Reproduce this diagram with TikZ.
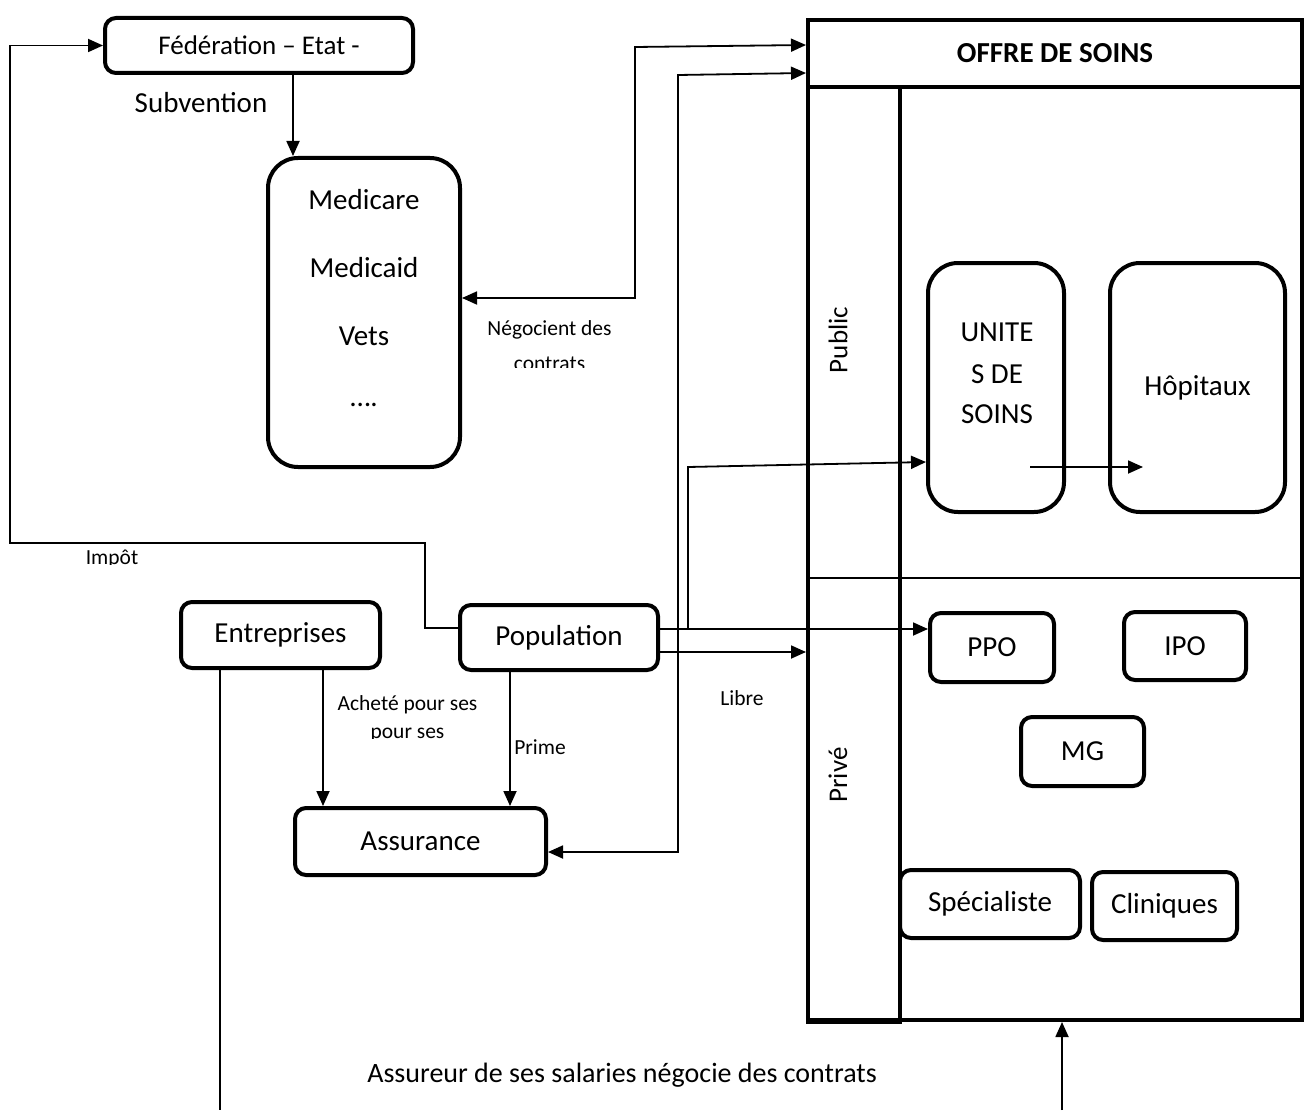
\documentclass[tikz,border=0pt]{standalone}
\usepackage{fontspec}
\setmainfont{Carlito}
\usetikzlibrary{arrows.meta}
\begin{document}
\begin{tikzpicture}[x=1pt,y=-1pt,
  box/.style={draw, line width=4pt, rounded corners=11pt, inner sep=0pt, font=\fontsize{29}{34}\selectfont},
  tall/.style={box, rounded corners=30pt},
  tip/.style={line width=1.8pt, -{Triangle[length=15pt,width=13pt]}},
  twotip/.style={line width=1.8pt, {Triangle[length=15pt,width=13pt]}-{Triangle[length=15pt,width=13pt]}},
  plain/.style={line width=1.8pt},
  frame/.style={line width=4pt},
  big/.style={inner sep=0pt, font=\fontsize{29}{34}\selectfont},
  small/.style={inner sep=0pt, font=\fontsize{21.5}{25}\selectfont}]

\useasboundingbox (0,0) rectangle (1305,1110);

% ---- health care supply block
\node[draw, line width=4pt, minimum width=494pt, minimum height=1000pt, inner sep=0pt] (offre) at (1055,520) {};
\draw[frame] (808,87) -- (1302,87);
\draw[frame] (808,87) rectangle (900,1022);
\draw[line width=2pt] (808,578) -- (1302,578);
\node[inner sep=0pt, font=\fontsize{29}{34}\selectfont\bfseries] (offtitle) at (1055,53) {OFFRE DE SOINS};
\node[inner sep=0pt, font=\fontsize{27}{32}\selectfont, rotate=90] (public) at (838,340) {Public};
\node[inner sep=0pt, font=\fontsize{27}{32}\selectfont, rotate=90] (prive) at (838,775) {Privé};

\node[tall, minimum width=136pt, minimum height=249pt] (uni) at (996,387.5) {};
\node[big] (uni1) at (997,332) {UNITE};
\node[big] (uni2) at (997,374) {S DE};
\node[big] (uni3) at (997,414) {SOINS};
\node[tall, minimum width=175pt, minimum height=249pt] (hop) at (1197.5,387.5) {Hôpitaux};

\node[box, minimum width=124pt, minimum height=69pt] (ppo) at (992,647.5) {PPO};
\node[box, minimum width=122pt, minimum height=68pt] (ipo) at (1185,646) {IPO};
\node[box, minimum width=123pt, minimum height=69pt] (mg) at (1082.5,751.5) {MG};
\node[box, minimum width=180pt, minimum height=68pt] (spec) at (990,904) {Spécialiste};
\node[box, minimum width=145pt, minimum height=68pt] (clin) at (1164.5,906) {Cliniques};

% ---- funders and population
\node[box, minimum width=308pt, minimum height=55pt, font=\fontsize{27}{32}\selectfont] (fed) at (259,45.5) {Fédération – Etat -};
\node[tall, minimum width=192pt, minimum height=309pt] (med) at (364,312.5) {};
\node[big] (med1) at (364,200) {Medicare};
\node[big] (med2) at (364,268) {Medicaid};
\node[big] (med3) at (364,336) {Vets};
\node[big] (med4) at (364,405) {….};

\node[box, minimum width=199pt, minimum height=66pt] (ent) at (280.5,635) {Entreprises};
\node[box, minimum width=198pt, minimum height=65pt] (pop) at (559,637.5) {Population};
\node[box, minimum width=251pt, minimum height=67pt] (ass) at (420.5,841.5) {Assurance};

% ---- labels (the lower lines are cut off by their text frames)
\node[big] (subv) at (201,103) {Subvention};
\begin{scope}
  \clip (440,300) rectangle (660,367);
  \node[small] (neg1) at (549.5,330) {Négocient des};
  \node[small] (neg2) at (549.5,363.5) {contrats};
\end{scope}
\begin{scope}
  \clip (50,540) rectangle (170,564);
  \node[small] (impot) at (112,559) {Impôt};
\end{scope}
\begin{scope}
  \clip (320,690) rectangle (500,738);
  \node[small] (ach1) at (407.5,705) {Acheté pour ses};
  \node[small] (ach2) at (407.5,735) {pour ses};
\end{scope}
\node[small] (prime) at (540,747) {Prime};
\node[small] (libre) at (742,698) {Libre};
\node[inner sep=0pt, font=\fontsize{28}{33}\selectfont] (assureur) at (622,1075) {Assureur de ses salaries négocie des contrats};

% ---- connectors
\coordinate (split) at (688,629);
\coordinate (entEnd) at (220,1110);
\coordinate (botStart) at (1062,1110);

\draw[tip] ([yshift=9.5pt]pop.west) -- ++(-33,0) |- (10,543) |- (fed.west);
\draw[tip] ([xshift=34pt]fed.south) -- ([xshift=-71pt]med.north);
\draw[twotip] ([yshift=14.5pt]med.east) -| (635,47) -- ([yshift=-27pt]offre.north west);
\draw[twotip] ([yshift=-10.5pt]ass.east) -| (678,75) -- ([yshift=-55pt]offre.north west);
\draw[tip] ([yshift=8.5pt]pop.east) -- ([yshift=18.5pt]ppo.west);
\draw[tip] (split) -- (688,467) -- ([yshift=-74.5pt]uni.west);
\draw[tip] ([yshift=-14.5pt]pop.east) -- ([yshift=-14.5pt]pop.east -| offre.west);
\draw[tip] ([xshift=34pt,yshift=-79.5pt]uni.center) -- ([xshift=-54.5pt,yshift=-79.5pt]hop.center);
\draw[tip] ([xshift=42.5pt]ent.south) -- ([xshift=-97.5pt]ass.north);
\draw[tip] ([xshift=-49pt]pop.south) -- ([xshift=89.5pt]ass.north);
\draw[plain] ([xshift=-60.5pt]ent.south) -- (entEnd);
\draw[tip] (botStart) -- ([xshift=7pt]offre.south);
\end{tikzpicture}
\end{document}
